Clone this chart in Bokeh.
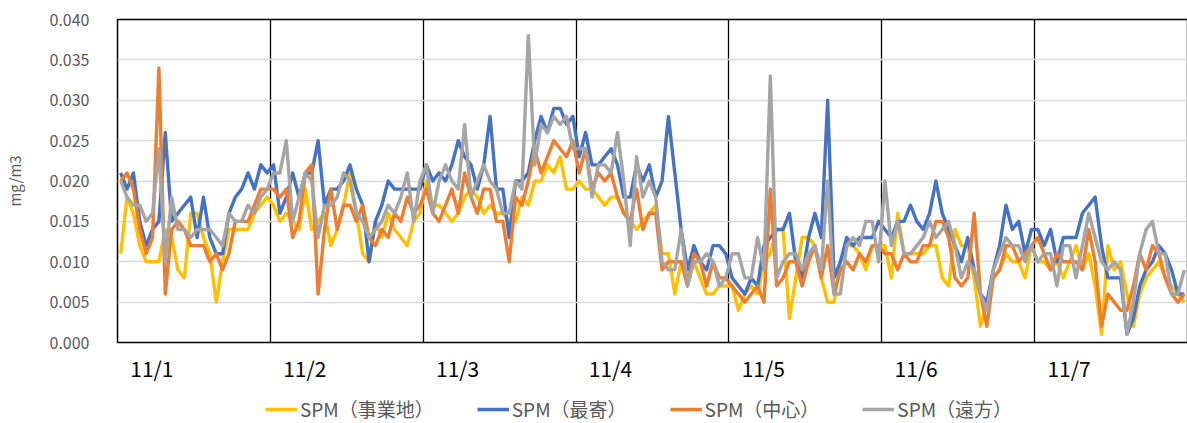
from bokeh.plotting import figure
from bokeh.layouts import column
from bokeh.models import FixedTicker, PrintfTickFormatter, Legend, LegendItem, Range1d
from bokeh.embed import file_html
from bokeh.resources import INLINE

days = ["11/1", "11/2", "11/3", "11/4", "11/5", "11/6", "11/7"]
series_names = ["SPM（事業地）", "SPM（最寄）", "SPM（中心）", "SPM（遠方）"]
series_colors = ["#FFC000", "#4472C4", "#ED7D31", "#A5A5A5"]

spm_jigyochi = [
    0.011,0.018,0.016,0.012,0.010,0.010,0.010,0.014,0.013,0.009,0.008,0.016,0.016,0.013,0.011,0.005,0.010,0.014,0.014,0.014,0.014,0.016,0.017,0.018,
    0.017,0.015,0.016,0.015,0.014,0.019,0.014,0.015,0.016,0.012,0.014,0.017,0.021,0.016,0.011,0.010,0.015,0.013,0.016,0.014,0.013,0.012,0.015,0.016,
    0.020,0.017,0.017,0.016,0.015,0.016,0.018,0.019,0.018,0.016,0.017,0.016,0.016,0.015,0.015,0.018,0.017,0.020,0.020,0.022,0.021,0.023,0.019,0.019,
    0.020,0.019,0.019,0.018,0.017,0.018,0.018,0.016,0.015,0.014,0.015,0.016,0.017,0.011,0.011,0.006,0.010,0.008,0.010,0.008,0.006,0.006,0.007,0.007,
    0.007,0.004,0.006,0.007,0.006,0.010,0.011,0.014,0.014,0.003,0.008,0.013,0.013,0.012,0.008,0.005,0.005,0.010,0.012,0.012,0.011,0.009,0.012,0.012,
    0.012,0.008,0.016,0.011,0.011,0.011,0.011,0.012,0.012,0.008,0.007,0.014,0.012,0.012,0.008,0.002,0.005,0.008,0.009,0.011,0.010,0.010,0.008,0.012,
    0.010,0.010,0.009,0.010,0.008,0.010,0.012,0.009,0.011,0.007,0.001,0.012,0.009,0.010,0.006,0.002,0.006,0.008,0.009,0.010,0.008,0.007,0.006,0.005,
]
spm_moyori = [
    0.021,0.019,0.021,0.015,0.012,0.014,0.015,0.026,0.015,0.016,0.017,0.018,0.013,0.018,0.013,0.011,0.011,0.016,0.018,0.019,0.021,0.019,0.022,0.021,
    0.022,0.016,0.018,0.021,0.018,0.021,0.021,0.025,0.017,0.019,0.019,0.020,0.022,0.019,0.017,0.010,0.015,0.017,0.020,0.019,0.019,0.019,0.019,0.019,
    0.022,0.020,0.021,0.020,0.022,0.025,0.023,0.022,0.019,0.022,0.028,0.019,0.019,0.013,0.020,0.020,0.021,0.025,0.028,0.026,0.029,0.029,0.027,0.028,
    0.023,0.026,0.022,0.022,0.023,0.024,0.022,0.018,0.018,0.022,0.020,0.022,0.018,0.020,0.028,0.021,0.014,0.009,0.012,0.010,0.009,0.012,0.012,0.011,
    0.008,0.007,0.006,0.008,0.007,0.012,0.013,0.014,0.014,0.016,0.010,0.008,0.013,0.016,0.013,0.030,0.008,0.010,0.013,0.012,0.013,0.013,0.013,0.015,
    0.014,0.013,0.015,0.015,0.017,0.015,0.014,0.016,0.020,0.016,0.014,0.012,0.010,0.013,0.009,0.006,0.005,0.009,0.012,0.017,0.014,0.015,0.011,0.014,
    0.014,0.012,0.014,0.010,0.013,0.013,0.013,0.016,0.017,0.018,0.012,0.008,0.008,0.008,0.001,0.003,0.007,0.009,0.010,0.012,0.011,0.009,0.006,0.006,
]
spm_chushin = [
    0.020,0.021,0.019,0.014,0.011,0.013,0.034,0.006,0.014,0.015,0.014,0.012,0.012,0.012,0.010,0.011,0.009,0.011,0.015,0.015,0.015,0.017,0.019,0.019,
    0.019,0.018,0.019,0.013,0.015,0.021,0.022,0.006,0.014,0.019,0.014,0.017,0.017,0.015,0.017,0.013,0.012,0.014,0.013,0.016,0.015,0.018,0.016,0.017,
    0.019,0.016,0.015,0.017,0.019,0.016,0.021,0.018,0.016,0.019,0.019,0.015,0.015,0.010,0.018,0.017,0.020,0.024,0.021,0.023,0.025,0.024,0.023,0.025,
    0.021,0.024,0.019,0.021,0.020,0.021,0.018,0.016,0.015,0.019,0.014,0.016,0.016,0.009,0.010,0.010,0.010,0.007,0.011,0.010,0.007,0.010,0.008,0.008,
    0.007,0.006,0.005,0.006,0.007,0.005,0.019,0.007,0.008,0.010,0.010,0.007,0.010,0.012,0.008,0.012,0.006,0.009,0.010,0.009,0.011,0.010,0.012,0.012,
    0.011,0.011,0.009,0.011,0.010,0.010,0.012,0.012,0.015,0.015,0.013,0.008,0.007,0.008,0.016,0.006,0.002,0.008,0.009,0.012,0.012,0.010,0.011,0.012,
    0.013,0.011,0.009,0.011,0.010,0.010,0.010,0.009,0.014,0.010,0.002,0.006,0.005,0.004,0.004,0.007,0.011,0.009,0.012,0.011,0.008,0.006,0.005,0.006,
]
spm_enpo = [
    0.020,0.018,0.017,0.017,0.015,0.016,0.024,0.010,0.018,0.014,0.014,0.013,0.014,0.014,0.014,0.013,0.012,0.016,0.015,0.015,0.017,0.016,0.018,0.019,
    0.021,0.021,0.025,0.015,0.018,0.021,0.020,0.013,0.017,0.017,0.018,0.021,0.020,0.016,0.015,0.013,0.014,0.015,0.017,0.016,0.018,0.021,0.015,0.020,
    0.022,0.016,0.020,0.022,0.020,0.019,0.027,0.018,0.020,0.022,0.020,0.019,0.016,0.016,0.020,0.019,0.038,0.022,0.027,0.026,0.028,0.027,0.028,0.024,
    0.024,0.024,0.018,0.022,0.022,0.021,0.026,0.020,0.012,0.023,0.018,0.020,0.018,0.010,0.009,0.009,0.014,0.007,0.010,0.010,0.011,0.010,0.007,0.008,
    0.011,0.011,0.008,0.008,0.013,0.009,0.033,0.008,0.010,0.011,0.011,0.009,0.011,0.012,0.009,0.020,0.006,0.006,0.012,0.013,0.012,0.015,0.015,0.010,
    0.020,0.012,0.015,0.011,0.011,0.012,0.013,0.015,0.013,0.014,0.015,0.012,0.008,0.010,0.009,0.006,0.004,0.009,0.011,0.013,0.012,0.012,0.010,0.012,
    0.010,0.011,0.011,0.007,0.012,0.012,0.008,0.012,0.016,0.013,0.010,0.009,0.010,0.009,0.001,0.005,0.011,0.014,0.015,0.011,0.011,0.006,0.006,0.009,
]

y_ticks = [0.0, 0.005, 0.010, 0.015, 0.020, 0.025, 0.030, 0.035, 0.040]

FONT = "Noto Sans CJK JP"
n_hours = len(spm_jigyochi)
hours = [i + 0.5 for i in range(n_hours)]
all_series = [spm_jigyochi, spm_moyori, spm_chushin, spm_enpo]

p = figure(frame_width=1070, frame_height=323, output_backend="svg", toolbar_location=None,
           x_range=Range1d(0, 168), y_range=Range1d(0, 0.040),
           min_border_left=108, min_border_right=1, min_border_top=19, min_border_bottom=52)
p.background_fill_color = "white"
p.border_fill_color = "white"
p.outline_line_color = "black"
p.outline_line_width = 1.5

# grid
p.ygrid.ticker = FixedTicker(ticks=y_ticks)
p.ygrid.grid_line_color = "#D9D9D9"
p.ygrid.grid_line_width = 1.5
p.xgrid.ticker = FixedTicker(ticks=[24 * d for d in range(1, len(days))])
p.xgrid.grid_line_color = "black"
p.xgrid.grid_line_width = 1.3

# axes
p.yaxis.ticker = FixedTicker(ticks=y_ticks)
p.yaxis.formatter = PrintfTickFormatter(format="%.3f")
p.yaxis.major_label_text_font = FONT
p.yaxis.major_label_text_font_size = "16px"
p.yaxis.major_label_text_color = "#595959"
p.yaxis.major_label_standoff = 22
p.yaxis.axis_label = "mg/m3"
p.yaxis.axis_label_text_font = FONT
p.yaxis.axis_label_text_font_size = "15px"
p.yaxis.axis_label_text_font_style = "normal"
p.yaxis.axis_label_text_color = "#595959"
p.yaxis.axis_label_standoff = 22

label_pos = [round(24 * d + 5.4, 1) for d in range(len(days))]
p.xaxis.ticker = FixedTicker(ticks=label_pos)
p.xaxis.major_label_overrides = {pos: lab for pos, lab in zip(label_pos, days)}
p.xaxis.major_label_text_font = FONT
p.xaxis.major_label_text_font_size = "21px"
p.xaxis.major_label_text_color = "black"
p.xaxis.major_label_standoff = 4

for ax in (p.xaxis[0], p.yaxis[0]):
    ax.axis_line_color = None
    ax.major_tick_line_color = None
    ax.minor_tick_line_color = None

for vals, col in zip(all_series, series_colors):
    p.line(hours, vals, line_color=col, line_width=3.4, line_join="round")

# legend strip below the chart (its series sit outside its visible y range)
lg = figure(width=1179, height=28, output_backend="svg", toolbar_location=None,
            x_range=Range1d(0, 168), y_range=Range1d(1, 2),
            min_border=0, outline_line_color=None)
lg.axis.visible = False
lg.grid.visible = False
lg.border_fill_color = "white"
items = []
for vals, name, col in zip(all_series, series_names, series_colors):
    r = lg.line(hours, vals, line_color=col, line_width=3.4)
    items.append(LegendItem(label=name, renderers=[r]))
legend = Legend(items=items, orientation="horizontal", location=(148, 0),
                glyph_width=32, glyph_height=20, label_standoff=3, spacing=43,
                padding=0, margin=0, label_text_font=FONT, label_text_font_size="19px",
                label_text_color="#595959", background_fill_alpha=0, border_line_color=None)
lg.add_layout(legend, "center")

layout = column(p, lg, spacing=0)
open("out.html", "w").write(file_html(layout, INLINE))
